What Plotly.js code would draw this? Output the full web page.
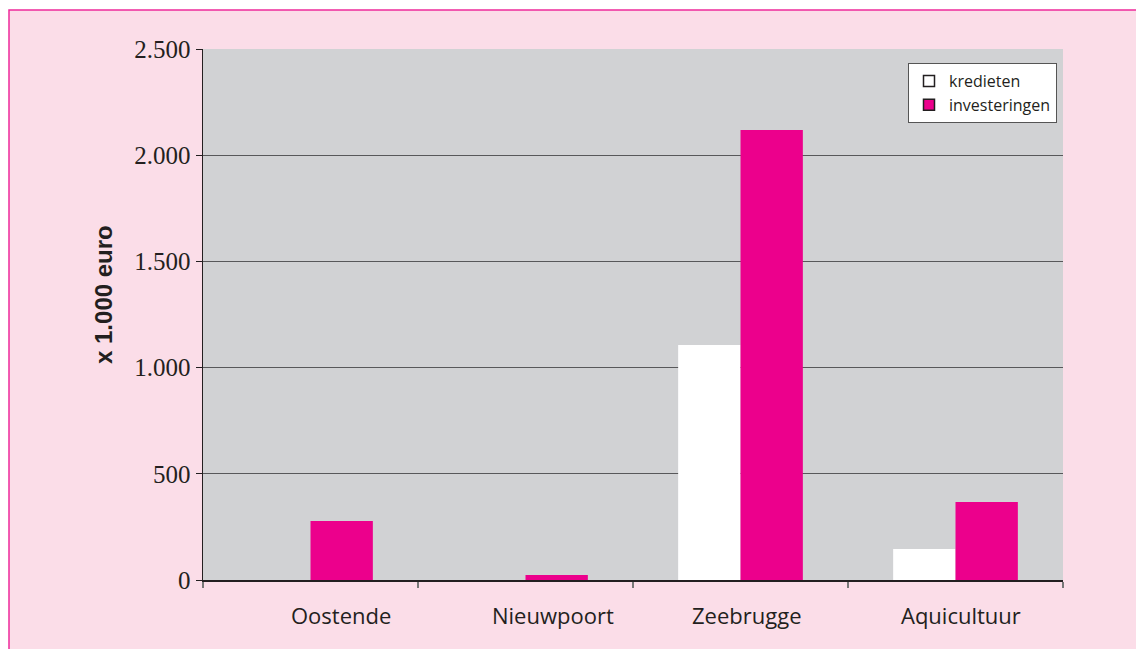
<!DOCTYPE html>
<html>
<head>
<meta charset="utf-8">
<script src="https://cdn.plot.ly/plotly-3.0.1.min.js"></script>
<style>html,body{margin:0;padding:0;background:#fff;}#chart{width:1136px;height:649px;}</style>
</head>
<body>
<div id="chart"></div>
<script>
const categories = ["Oostende", "Nieuwpoort", "Zeebrugge", "Aquicultuur"];
const seriesNames = ["kredieten", "investeringen"];
const kredieten = [0, 0, 1106, 146];
const investeringen = [278, 24, 2119, 367];
const yTicks = [0, 500, 1000, 1500, 2000, 2500];
const yTitle = "x 1.000 euro";

const pink = "#ec008c";
const traces = [
  {type: "bar", x: categories, y: kredieten, name: seriesNames[0], showlegend: false,
   marker: {color: "#ffffff", line: {width: 0}}},
  {type: "bar", x: categories, y: investeringen, name: seriesNames[1], showlegend: false,
   marker: {color: pink, line: {width: 0}}},
  {type: "scatter", mode: "markers", x: categories, y: kredieten.map(() => null), name: seriesNames[0],
   marker: {symbol: "square", size: 11, color: "#ffffff", line: {color: "#231f20", width: 1.5}}},
  {type: "scatter", mode: "markers", x: categories, y: investeringen.map(() => null), name: seriesNames[1],
   marker: {symbol: "square", size: 11, color: pink, line: {color: "#231f20", width: 1.5}}}
];

const L = 203, R = 1063, T = 49, B = 580, W = 1136, H = 649;
const pw = R - L, ph = B - T;
const px = v => (v - L) / pw;
const py = v => (B - v) / ph;

// category labels, drawn as annotations anchored on the category axis
const labelShifts = [30, 27, 6, 5];
const labelFont = {family: "'Open Sans', Lato, sans-serif", size: 22, color: "#231f20"};
const catLabels = categories.map((c, i) => ({
  text: c, xref: "x", yref: "paper", x: c, y: py(615),
  xanchor: "center", yanchor: "middle", xshift: labelShifts[i],
  showarrow: false, font: labelFont
}));

const layout = {
  width: W, height: H,
  margin: {l: L, r: W - R, t: T, b: H - B, pad: 0},
  paper_bgcolor: "#ffffff",
  plot_bgcolor: "#d1d2d4",
  separators: ",.",
  barmode: "group",
  bargap: 0.42,
  bargroupgap: 0,
  showlegend: true,
  legend: {
    x: px(908), y: py(63), xanchor: "left", yanchor: "top",
    bgcolor: "#ffffff", bordercolor: "#555555", borderwidth: 1,
    font: {family: "'Open Sans', Lato, sans-serif", size: 16, color: "#231f20"},
    itemwidth: 30, tracegroupgap: 0
  },
  shapes: [
    {type: "rect", xref: "paper", yref: "paper", layer: "below",
     x0: px(9), x1: px(1145), y0: py(10), y1: py(660),
     fillcolor: "#fbdde8", line: {color: "#ee2a9a", width: 1.5}},
    {type: "rect", xref: "paper", yref: "paper", layer: "below",
     x0: 0, x1: 1, y0: 0, y1: 1,
     fillcolor: "#d1d2d4", line: {width: 0}}
  ],
  annotations: [{
    text: yTitle, xref: "paper", yref: "paper", x: px(103), y: py(295),
    xanchor: "center", yanchor: "middle", textangle: -90, showarrow: false,
    font: {family: "'Liberation Sans', Arial, sans-serif", size: 24, color: "#231f20", weight: "bold"}
  }].concat(catLabels),
  xaxis: {
    type: "category",
    showline: true, linecolor: "#231f20", linewidth: 1.5,
    ticks: "outside", tickson: "boundaries", ticklen: 6, tickcolor: "#777777", tickwidth: 1.5,
    showgrid: false, zeroline: false, showticklabels: false
  },
  yaxis: {
    range: [0, 2500], tickvals: yTicks, tickformat: ",d",
    showline: true, linecolor: "#231f20", linewidth: 1.5,
    ticks: "outside", ticklen: 6, tickcolor: "#231f20", tickwidth: 1,
    showgrid: true, gridcolor: "#58585a", gridwidth: 1,
    zeroline: false,
    tickfont: {family: "'Liberation Serif', 'DejaVu Serif', serif", size: 25, color: "#231f20"},
    ticklabelstandoff: 0
  },
  hovermode: false
};

Plotly.newPlot("chart", traces, layout, {displayModeBar: false, staticPlot: true});
</script>
</body>
</html>
